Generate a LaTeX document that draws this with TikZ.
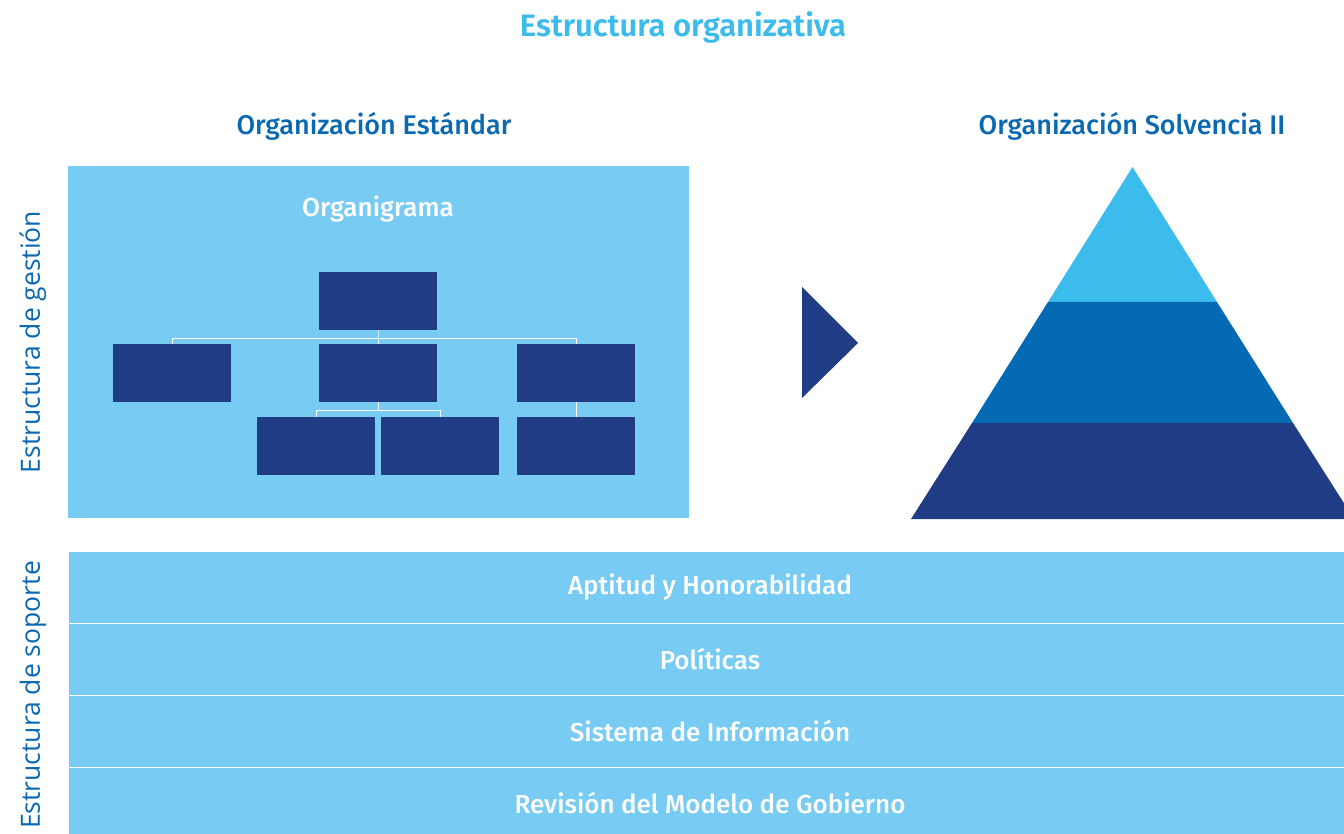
\documentclass[tikz,border=0pt]{standalone}
\usepackage{fontspec}
\setmainfont{Fira Sans}[BoldFont={Fira Sans Medium}]
\newfontfamily\titlefont{Fira Sans SemiBold}
\newfontfamily\sidefont{Open Sans}
\usetikzlibrary{positioning}

\definecolor{skyfill}{HTML}{78CBF2}
\definecolor{navyfill}{HTML}{1F3C84}
\definecolor{midblue}{HTML}{046AB4}
\definecolor{cyanblue}{HTML}{3BBCEC}
\definecolor{headblue}{HTML}{0B69B2}

\tikzset{
  orgbox/.style={fill=navyfill, minimum width=118pt, minimum height=58pt, inner sep=0pt},
  orgline/.style={draw=white, line width=1pt},
  barbox/.style={fill=skyfill, draw=white, line width=1pt, minimum width=1284pt, minimum height=72pt,
    text=white, font=\bfseries\fontsize{26}{31}\selectfont},
  headtext/.style={text=headblue, font=\bfseries\fontsize{27}{32}\selectfont},
  sidetext/.style={text=headblue, rotate=90, font=\sidefont\fontsize{26.5}{30}\selectfont}
}

\begin{document}
\begin{tikzpicture}[x=1pt, y=-1pt]
   \clip (0,0) rectangle (1344,834);
   \fill[white] (0,0) rectangle (1344,834);

   \node [text=cyanblue, font=\titlefont\fontsize{31}{36}\selectfont] (title) at (683,27) {Estructura organizativa};
   \node [headtext] (hstd) at (374,126) {Organización Estándar};
   \node [headtext] (hsolv) at (1132,126) {Organización Solvencia II};

   % organigrama
   \fill[skyfill] (68,166) rectangle (689,518);
   \node [text=white, font=\bfseries\fontsize{26}{31}\selectfont] (orglbl) at (378,209) {Organigrama};
   \node [orgbox] (top) at (378,301) {};
   \node [orgbox] (left) at (172,373) {};
   \node [orgbox] (mid) at (378,373) {};
   \node [orgbox] (right) at (576,373) {};
   \node [orgbox] (subA) at (316,446) {};
   \node [orgbox] (subB) at (440,446) {};
   \node [orgbox] (subC) at (576,446) {};
   \coordinate (j1) at (378,338);
   \coordinate (j2) at (378,410);
   \draw [orgline] (top.south) -- (j1) -- (mid.north);
   \draw [orgline] (j1) -| (left.north);
   \draw [orgline] (j1) -| (right.north);
   \draw [orgline] (mid.south) -- (j2) -| (subA.north);
   \draw [orgline] (j2) -| (subB.north);
   \draw [orgline] (right.south) -- (subC.north);

   % flecha
   \fill[navyfill] (802,287) -- (858,343) -- (802,398) -- cycle;

   % piramide
   \fill[cyanblue] (1132.5,167) -- (1217,302) -- (1048,302) -- cycle;
   \fill[midblue] (1048,302) -- (1217,302) -- (1293,423) -- (972,423) -- cycle;
   \fill[navyfill] (972,423) -- (1293,423) -- (1354,519) -- (911,519) -- cycle;

   % estructura de soporte
   \node [barbox] (b1) at (710,587) {Aptitud y Honorabilidad};
   \node [barbox, text depth=0pt] (b2) at (710,659) {Políticas};
   \node [barbox] (b3) at (710,731) {Sistema de Información};
   \node [barbox] (b4) at (710,803) {Revisión del Modelo de Gobierno};

   \node [sidetext] (sgest) at (33,342) {Estructura de gestión};
   \node [sidetext] (ssop) at (33,695) {Estructura de soporte};
\end{tikzpicture}
\end{document}
